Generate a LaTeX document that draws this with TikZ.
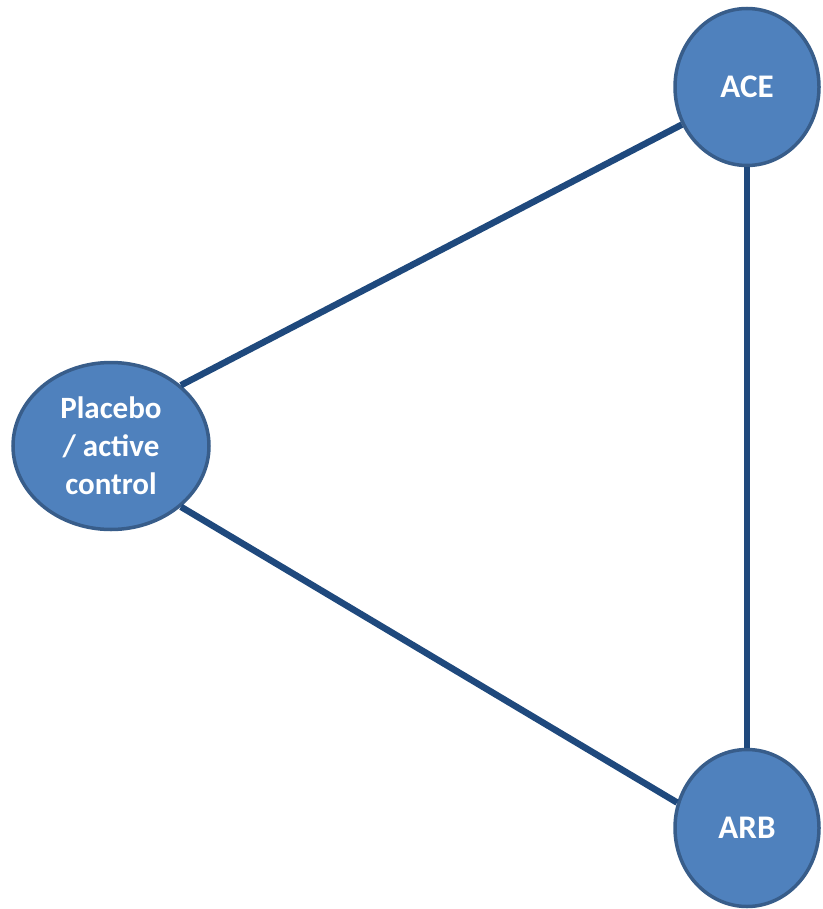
\documentclass[tikz,border=0pt]{standalone}
\usepackage{fontspec}
\setmainfont{Carlito}
\usetikzlibrary{shapes.geometric}
\definecolor{nodefill}{HTML}{4F81BD}
\definecolor{nodeedge}{HTML}{385D8A}
\definecolor{linkblue}{HTML}{1F497D}
\tikzset{
  treat/.style={ellipse, fill=nodefill, draw=nodeedge, line width=3.5pt,
    inner sep=0pt, text=white, font=\bfseries\fontsize{33}{38}\selectfont,
    align=center},
  link/.style={draw=linkblue, line width=6.5pt}
}
\begin{document}
\begin{tikzpicture}[x=1pt,y=-1pt]
  \useasboundingbox (0,0) rectangle (822,909);
  % treatment nodes
  \node[treat, minimum width=144pt, minimum height=157pt] (ace) at (747,87) {ACE};
  \node[treat, minimum width=144pt, minimum height=157pt] (arb) at (747,828) {ARB};
  \node[treat, minimum width=196pt, minimum height=167pt,
        font=\bfseries\fontsize{31}{38}\selectfont] (plc) at (111,446)
        {Placebo\\/ active\\control};
  % comparisons between treatments
  \draw[link] (plc.41) -- (ace.210);
  \draw[link] (plc.-41) -- (arb.160);
  \draw[link] (ace) -- (arb);
\end{tikzpicture}
\end{document}
